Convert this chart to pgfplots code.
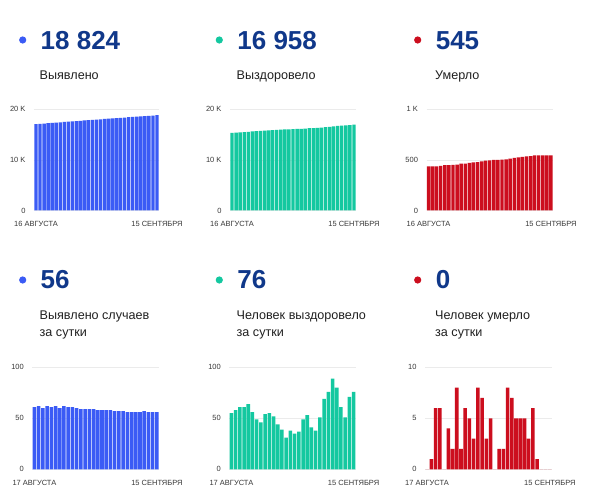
\documentclass[border=0pt]{standalone}
\usepackage{fontspec}
\setmainfont{Liberation Sans}
\usepackage{pgfplots}
\pgfplotsset{compat=1.18}
\definecolor{cblue}{RGB}{59,91,245}
\definecolor{cteal}{RGB}{20,200,160}
\definecolor{cred}{RGB}{204,14,30}
\definecolor{cnavy}{RGB}{16,56,138}
\definecolor{ctext}{RGB}{33,33,33}
\definecolor{ctick}{RGB}{55,55,55}
\pgfplotsset{
  mini/.style={
    scale only axis, enlargelimits=false, scaled y ticks=false,
    axis line style={draw=none}, major tick length=0pt,
    ymajorgrids, grid style={color=black!8, line width=0.6pt},
    ybar, bar width=0.84, bar shift=0pt, ymin=0,
    tick label style={font=\fontsize{7.5}{8}\selectfont, text=ctick},
    yticklabel style={anchor=east, xshift=-5pt},
    xticklabel style={anchor=north, yshift=-7.3pt},
    clip=false,
  },
  top/.style={mini, height=101.2pt, xmin=-0.5, xmax=30.5, xtick={0,30},
    xticklabels={16 АВГУСТА,15 СЕНТЯБРЯ}},
  bot/.style={mini, height=102pt, xmin=-0.5, xmax=29.5, xtick={0,29},
    xticklabels={17 АВГУСТА,15 СЕНТЯБРЯ}},
}
\newcommand{\bignum}[1]{{\fontsize{26}{30}\selectfont\bfseries\color{cnavy}#1}}
\newcommand{\lab}[1]{{\fontsize{12.6}{17}\selectfont\color{ctext}#1}}
\begin{document}
\begin{tikzpicture}
\path[use as bounding box, fill=white] (0pt,0pt) rectangle (595pt,498pt);
% ---- headers top row
\fill[cblue] (22.7pt,458pt) circle (3.6pt);
\node[anchor=base west, inner sep=0] at (40.5pt,448pt) {\bignum{18 824}};
\node[anchor=base west, inner sep=0] at (39.5pt,418pt) {\lab{Выявлено}};
\fill[cteal] (219.3pt,458pt) circle (3.6pt);
\node[anchor=base west, inner sep=0] at (237.2pt,448pt) {\bignum{16 958}};
\node[anchor=base west, inner sep=0] at (236.5pt,418pt) {\lab{Выздоровело}};
\fill[cred] (417.7pt,458pt) circle (3.6pt);
\node[anchor=base west, inner sep=0] at (435.6pt,448pt) {\bignum{545}};
\node[anchor=base west, inner sep=0] at (435pt,418pt) {\lab{Умерло}};
% ---- headers bottom row
\fill[cblue] (22.7pt,218pt) circle (3.6pt);
\node[anchor=base west, inner sep=0] at (40.5pt,209.7pt) {\bignum{56}};
\node[anchor=base west, inner sep=0] at (39.5pt,178pt) {\lab{Выявлено случаев}};
\node[anchor=base west, inner sep=0] at (39.5pt,161.3pt) {\lab{за сутки}};
\fill[cteal] (219.3pt,218pt) circle (3.6pt);
\node[anchor=base west, inner sep=0] at (237.2pt,209.7pt) {\bignum{76}};
\node[anchor=base west, inner sep=0] at (236.5pt,178pt) {\lab{Человек выздоровело}};
\node[anchor=base west, inner sep=0] at (236.5pt,161.3pt) {\lab{за сутки}};
\fill[cred] (417.7pt,218pt) circle (3.6pt);
\node[anchor=base west, inner sep=0] at (435.6pt,209.7pt) {\bignum{0}};
\node[anchor=base west, inner sep=0] at (435pt,178pt) {\lab{Человек умерло}};
\node[anchor=base west, inner sep=0] at (435pt,161.3pt) {\lab{за сутки}};

% ---- top-left: cumulative cases
\begin{axis}[top, at={(34pt,287.5pt)}, anchor=south west, width=125pt,
  ymax=20000, ytick={0,10000,20000}, yticklabels={0,10 K,20 K}]
\addplot[fill=cblue, draw=none] coordinates {
(0,17064)(1,17125)(2,17187)(3,17247)(4,17309)(5,17370)(6,17432)(7,17492)
(8,17554)(9,17615)(10,17676)(11,17736)(12,17795)(13,17854)(14,17913)
(15,17972)(16,18030)(17,18088)(18,18146)(19,18204)(20,18261)(21,18318)
(22,18375)(23,18431)(24,18487)(25,18543)(26,18599)(27,18656)(28,18712)
(29,18768)(30,18824)};
\end{axis}
% ---- top-middle: cumulative recovered
\begin{axis}[top, at={(230pt,287.5pt)}, anchor=south west, width=126pt,
  ymax=20000, ytick={0,10000,20000}, yticklabels={0,10 K,20 K}]
\addplot[fill=cteal, draw=none] coordinates {
(0,15318)(1,15373)(2,15431)(3,15492)(4,15553)(5,15617)(6,15673)(7,15722)
(8,15768)(9,15822)(10,15877)(11,15929)(12,15973)(13,16012)(14,16043)
(15,16081)(16,16116)(17,16153)(18,16202)(19,16255)(20,16296)(21,16334)
(22,16385)(23,16454)(24,16530)(25,16619)(26,16699)(27,16760)(28,16811)
(29,16882)(30,16958)};
\end{axis}
% ---- top-right: cumulative deaths
\begin{axis}[top, at={(426.5pt,287.5pt)}, anchor=south west, width=126.5pt,
  ymax=1000, ytick={0,500,1000}, yticklabels={0,500,1 K}]
\addplot[fill=cred, draw=none] coordinates {
(0,435)(1,435)(2,436)(3,442)(4,448)(5,448)(6,452)(7,454)(8,462)(9,464)
(10,470)(11,475)(12,478)(13,486)(14,493)(15,496)(16,501)(17,501)(18,503)
(19,505)(20,513)(21,520)(22,525)(23,530)(24,535)(25,538)(26,544)(27,545)
(28,545)(29,545)(30,545)};
\end{axis}
% ---- bottom-left: daily cases
\begin{axis}[bot, at={(32.3pt,28.7pt)}, anchor=south west, width=126.7pt,
  ymax=100, ytick={0,50,100}, yticklabels={0,50,100}]
\addplot[fill=cblue, draw=none] coordinates {
(0,61)(1,62)(2,60)(3,62)(4,61)(5,62)(6,60)(7,62)(8,61)(9,61)
(10,60)(11,59)(12,59)(13,59)(14,59)(15,58)(16,58)(17,58)(18,58)(19,57)
(20,57)(21,57)(22,56)(23,56)(24,56)(25,56)(26,57)(27,56)(28,56)(29,56)};
\end{axis}
% ---- bottom-middle: daily recovered
\begin{axis}[bot, at={(229.3pt,28.7pt)}, anchor=south west, width=126.4pt,
  ymax=100, ytick={0,50,100}, yticklabels={0,50,100}]
\addplot[fill=cteal, draw=none] coordinates {
(0,55)(1,58)(2,61)(3,61)(4,64)(5,56)(6,49)(7,46)(8,54)(9,55)
(10,52)(11,44)(12,39)(13,31)(14,38)(15,35)(16,37)(17,49)(18,53)(19,41)
(20,38)(21,51)(22,69)(23,76)(24,89)(25,80)(26,61)(27,51)(28,71)(29,76)};
\end{axis}
% ---- bottom-right: daily deaths
\begin{axis}[bot, at={(425pt,28.7pt)}, anchor=south west, width=127pt,
  ymax=10, ytick={0,5,10}, yticklabels={0,5,10}]
\addplot[fill=cred, draw=none] coordinates {
(0,0)(1,1)(2,6)(3,6)(4,0)(5,4)(6,2)(7,8)(8,2)(9,6)
(10,5)(11,3)(12,8)(13,7)(14,3)(15,5)(16,0)(17,2)(18,2)(19,8)
(20,7)(21,5)(22,5)(23,5)(24,3)(25,6)(26,1)(27,0)(28,0)(29,0)};
\end{axis}
\end{tikzpicture}
\end{document}
